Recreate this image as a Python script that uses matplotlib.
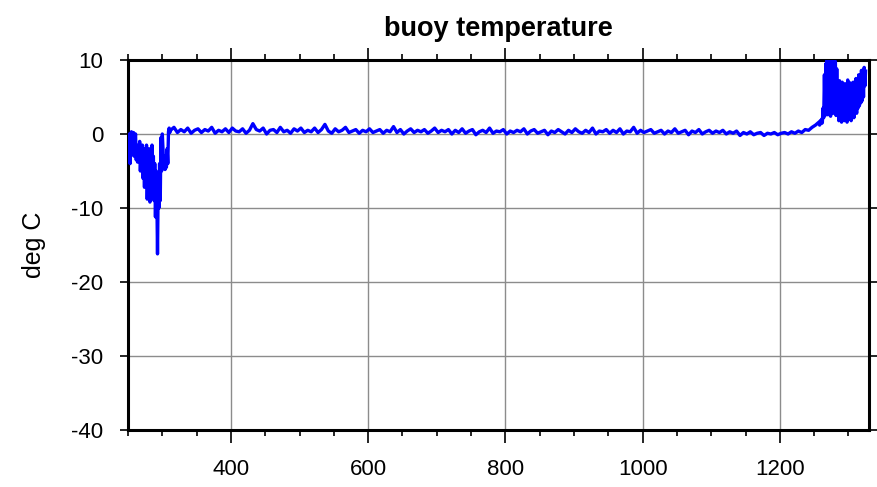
import matplotlib
matplotlib.use("Agg")
import matplotlib.pyplot as plt
from matplotlib.ticker import MultipleLocator
import numpy as np

plt.rcParams['font.family'] = ['Liberation Sans', 'DejaVu Sans']
plt.rcParams['axes.unicode_minus'] = False

# early record, one sample per day index (250..311)
early_start = 250
early_temp = [-1.0, -3.5, 0.0, -4.0, -2.0, 0.3, -1.5, -2.8, 0.2, -3.0,
              -1.0, 0.0, -3.5, -2.0, -3.8, -1.5, -3.0, -1.0, -5.0, -2.5,
              -4.0, -1.5, -6.0, -3.0, -7.2, -2.0, -5.0, -1.5, -8.8, -4.0,
              -6.0, -2.0, -9.2, -3.5, -5.0, -1.5, -7.0, -3.0, -9.0, -4.0,
              -11.2, -5.0, -8.0, -16.2, -7.0, -10.0, -4.0, -9.0, -0.5, -5.0,
              0.0, -2.0, -4.5, -3.0, -4.8, -3.5, -4.5, -2.0, -4.0, 0.3,
              0.8, 0.2]

# settled period, every 5th index (312..1257)
mid_start = 312
mid_step = 5
mid_temp = [0.5, 0.9, 0.2, 0.6, 0.3, 0.8, 0.1, 0.5, 0.7, 0.2, 0.6, 0.4, 0.9, 0.1, 0.5, 0.3, 0.7, 0.2, 0.8, 0.4,
            0.3, 0.7, 0.1, 0.5, 1.4, 0.6, 0.4, 0.8, 0.0, 0.5, 0.6, 0.2, 0.9, 0.3, 0.5, 0.1, 0.7, 0.4, 0.8, 0.2,
            0.5, 0.3, 0.8, 0.2, 0.6, 1.3, 0.4, 0.1, 0.7, 0.3, 0.5, 0.9, 0.2, 0.4, 0.6, 0.1, 0.5, 0.3, 0.7, 0.2,
            0.4, 0.6, 0.1, 0.5, 0.3, 1.0, 0.2, 0.6, 0.0, 0.4, 0.7, 0.2, 0.5, 0.3, 0.6, 0.1, 0.4, 0.8, 0.2, 0.5,
            0.3, 0.6, 0.0, 0.5, 0.2, 0.7, 0.1, 0.4, 0.6, -0.1, 0.3, 0.5, 0.2, 0.8, 0.1, 0.4, 0.3, 0.6, 0.0, 0.4,
            0.2, 0.5, 0.3, 0.7, 0.0, 0.4, 0.6, 0.1, 0.3, 0.5, -0.1, 0.4, 0.2, 0.6, 0.3, 0.0, 0.5, 0.2, 0.7, 0.3,
            0.1, 0.5, 0.2, 0.8, 0.0, 0.4, 0.3, 0.6, 0.1, 0.5, 0.2, 0.7, 0.0, 0.4, 0.3, 0.9, 0.1, 0.5, 0.2, 0.4,
            0.6, 0.1, 0.3, 0.5, 0.0, 0.4, 0.2, 0.7, 0.1, 0.3, 0.5, -0.1, 0.4, 0.2, 0.6, 0.0, 0.3, 0.5, 0.1, 0.4,
            0.2, 0.5, 0.0, 0.3, 0.1, 0.4, -0.2, 0.2, 0.0, 0.3, -0.1, 0.1, 0.2, -0.2, 0.1, 0.0, 0.2, -0.1, 0.1, 0.2,
            0.0, 0.3, 0.1, 0.4, 0.2, 0.6, 0.5, 0.9, 1.2, 1.6]

# melt-out at the end, one sample per index (1258..)
late_start = 1258
late_temp = [1.2, 1.8, 1.4, 2.0, 1.5, 3.5, 2.2, 8.0, 2.5, 9.5,
             3.0, 10.5, 2.6, 8.5, 3.2, 10.5, 2.4, 9.0, 3.5, 10.2,
             2.8, 7.5, 4.0, 9.8, 2.5, 8.8, 3.0, 6.5, 1.8, 7.2,
             2.4, 6.0, 1.6, 7.0, 2.2, 5.5, 1.8, 6.8, 2.5, 6.0,
             1.6, 7.3, 2.0, 5.8, 2.4, 6.9, 1.8, 6.2, 2.6, 7.0,
             2.2, 6.5, 3.0, 7.5, 2.8, 6.8, 3.5, 8.0, 3.8, 7.6,
             4.2, 8.6, 4.5, 8.2, 5.0, 9.0, 6.5, 8.5]

x = np.concatenate([
    early_start + np.arange(len(early_temp)),
    mid_start + mid_step * np.arange(len(mid_temp)),
    late_start + np.arange(len(late_temp)),
])
temp = np.concatenate([early_temp, mid_temp, late_temp])

fig = plt.figure(figsize=(8.77, 4.87), dpi=100)
ax = fig.add_axes([128 / 877, 1 - 430 / 487, 741 / 877, 370 / 487])

ax.plot(x, temp, color='#0000ff', lw=2.4, zorder=3)

ax.set_xlim(250, 1330)
ax.set_ylim(-40, 10)
ax.xaxis.set_major_locator(MultipleLocator(200))
ax.xaxis.set_minor_locator(MultipleLocator(50))
ax.yaxis.set_major_locator(MultipleLocator(10))
ax.set_xticks([400, 600, 800, 1000, 1200])

ax.grid(True, which='major', color='#8c8c8c', lw=1.0)
ax.set_axisbelow(True)

for s in ax.spines.values():
    s.set_linewidth(2.2)

ax.tick_params(which='both', direction='out', top=True, right=True,
               width=1.2, color='black')
ax.tick_params(which='major', length=6)
ax.tick_params(which='minor', length=4)
ax.tick_params(axis='x', which='major', length=9, pad=12, labelsize=16)
ax.tick_params(axis='y', labelsize=16, pad=12)

ax.set_ylabel('deg C', fontsize=18, labelpad=18)
ax.set_title('buoy temperature', fontsize=19.5, fontweight='bold', pad=17)

fig.savefig('out.png', dpi=100)
